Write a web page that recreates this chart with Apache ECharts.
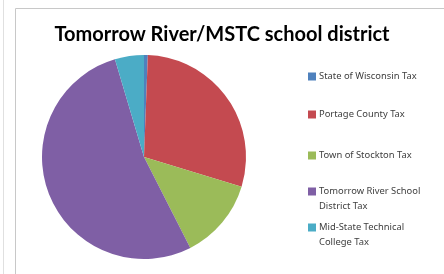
<!DOCTYPE html>
<html>
<head>
<meta charset="utf-8">
<script src="https://cdn.jsdelivr.net/npm/echarts@6/dist/echarts.min.js"></script>
<style>
  html, body { margin: 0; padding: 0; background: #fff; }
  #main { width: 444px; height: 274px; }
</style>
</head>
<body>
<div id="main"></div>
<script>
const categories = [
  "State of Wisconsin Tax",
  "Portage County Tax",
  "Town of Stockton Tax",
  "Tomorrow River School District Tax",
  "Mid-State Technical College Tax"
];
const shares = [0.6, 29.1, 12.8, 52.9, 4.6];
const colors = ["#4f81bd", "#c44a50", "#9bbb59", "#7f5fa5", "#4bacc6"];
// first line of each legend entry, and the wrapped remainder
const legendFirst = [
  "State of Wisconsin Tax",
  "Portage County Tax",
  "Town of Stockton Tax",
  "Tomorrow River School",
  "Mid-State Technical"
];
const legendSecond = ["", "", "", "District Tax", "College Tax"];
// legend rows (centre of first line)
const legendRows = [76, 114, 155, 191, 227];

const legendFont = "Noto Sans";
const legendSize = 9.4;

const chart = echarts.init(document.getElementById("main"));

const legends = categories.map((name, i) => ({
  data: [name],
  left: 303,
  top: legendRows[i] - 9,
  icon: "rect",
  itemWidth: 8,
  itemHeight: 8,
  itemGap: 0,
  selectedMode: false,
  formatter: () => legendFirst[i],
  textStyle: {
    fontFamily: legendFont,
    fontSize: legendSize,
    color: "#404040",
    padding: [0, 0, 0, -2]
  }
}));

// second lines of the wrapped legend entries
const secondLines = legendSecond
  .map((txt, i) => ({ txt, i }))
  .filter(d => d.txt)
  .map(d => ({
    type: "text",
    x: 319,
    y: legendRows[d.i] + 15.5,
    style: {
      text: d.txt,
      fontFamily: legendFont,
      fontSize: legendSize,
      fill: "#404040",
      verticalAlign: "middle"
    }
  }));

chart.setOption({
  animation: false,
  color: colors,
  title: {
    text: "Tomorrow River/MSTC school district",
    left: "center",
    top: 20,
    textStyle: {
      fontFamily: "Lato",
      fontWeight: "bold",
      fontSize: 20,
      color: "#000"
    }
  },
  legend: legends,
  graphic: [
    { type: "line", shape: { x1: 15.5, y1: 8.5, x2: 444, y2: 8.5 }, style: { stroke: "#c8c8c8", lineWidth: 1 } },
    { type: "line", shape: { x1: 15.5, y1: 8.5, x2: 15.5, y2: 274 }, style: { stroke: "#c8c8c8", lineWidth: 1 } },
    { type: "line", shape: { x1: 3.5, y1: 0, x2: 3.5, y2: 274 }, style: { stroke: "#e0e0e0", lineWidth: 1 } }
  ].concat(secondLines),
  series: [
    {
      type: "pie",
      center: [144, 157],
      radius: 102,
      startAngle: 90,
      clockwise: true,
      label: { show: false },
      labelLine: { show: false },
      emphasis: { disabled: true },
      data: categories.map((name, i) => ({ name, value: shares[i] }))
    }
  ]
});
</script>
</body>
</html>
